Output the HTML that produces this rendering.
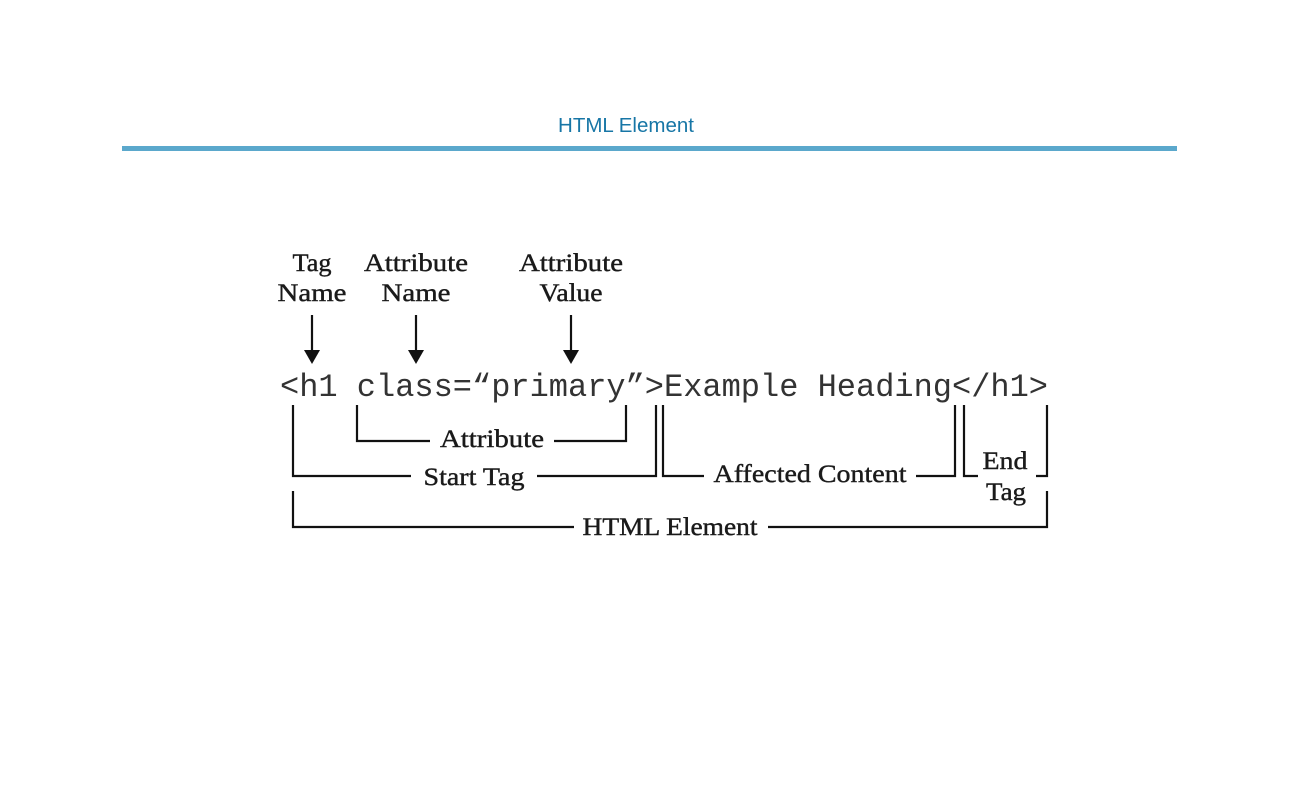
<!DOCTYPE html>
<html><head><meta charset="utf-8"><style>
html,body{margin:0;padding:0;background:#fff;width:1300px;height:800px;overflow:hidden}
</style></head><body>
<svg width="1300" height="800" viewBox="0 0 1300 800" xmlns="http://www.w3.org/2000/svg">
<text x="626" y="132" text-anchor="middle" font-family="Liberation Sans, sans-serif" font-size="20.5" fill="#1776a6">HTML Element</text>
<rect x="122" y="146" width="1055" height="5" fill="#5ba8cc"/>
<g font-family="Liberation Serif, serif" font-size="25" fill="#1a1a1a" stroke="#1a1a1a" stroke-width="0.4" text-anchor="middle" lengthAdjust="spacingAndGlyphs">
<text x="312" y="271" textLength="39" lengthAdjust="spacingAndGlyphs">Tag</text><text x="312" y="301" textLength="69" lengthAdjust="spacingAndGlyphs">Name</text>
<text x="416" y="271" textLength="104" lengthAdjust="spacingAndGlyphs">Attribute</text><text x="416" y="301" textLength="69" lengthAdjust="spacingAndGlyphs">Name</text>
<text x="571" y="271" textLength="104" lengthAdjust="spacingAndGlyphs">Attribute</text><text x="571" y="301" textLength="63" lengthAdjust="spacingAndGlyphs">Value</text>
<text x="492" y="447" textLength="104" lengthAdjust="spacingAndGlyphs">Attribute</text>
<text x="474" y="485" textLength="101" lengthAdjust="spacingAndGlyphs">Start Tag</text>
<text x="810" y="482" textLength="193" lengthAdjust="spacingAndGlyphs">Affected Content</text>
<text x="1005" y="469" textLength="45" lengthAdjust="spacingAndGlyphs">End</text><text x="1006" y="500" textLength="40" lengthAdjust="spacingAndGlyphs">Tag</text>
<text x="670" y="535" textLength="175" lengthAdjust="spacingAndGlyphs">HTML Element</text>
</g>
<text x="280" y="396" font-family="Liberation Mono, monospace" font-size="32" fill="#333" textLength="768" lengthAdjust="spacingAndGlyphs">&lt;h1 class=“primary”&gt;Example Heading&lt;/h1&gt;</text>
<g stroke="#111" stroke-width="2.2" fill="none">
<line x1="312" y1="315" x2="312" y2="352"/><line x1="416" y1="315" x2="416" y2="352"/><line x1="571" y1="315" x2="571" y2="352"/>
<polyline points="357,405 357,441 430,441"/><polyline points="554,441 626,441 626,405"/>
<polyline points="293,405 293,476 411,476"/><polyline points="537,476 656,476 656,405"/>
<polyline points="663,405 663,476 704,476"/><polyline points="916,476 955,476 955,405"/>
<polyline points="964,405 964,476 978,476"/><polyline points="1036,476 1047,476 1047,405"/>
<polyline points="293,491 293,527 574,527"/><polyline points="768,527 1047,527 1047,491"/>
</g>
<g fill="#111">
<polygon points="304,350 320,350 312,364"/><polygon points="408,350 424,350 416,364"/><polygon points="563,350 579,350 571,364"/>
</g>
</svg>
</body></html>
